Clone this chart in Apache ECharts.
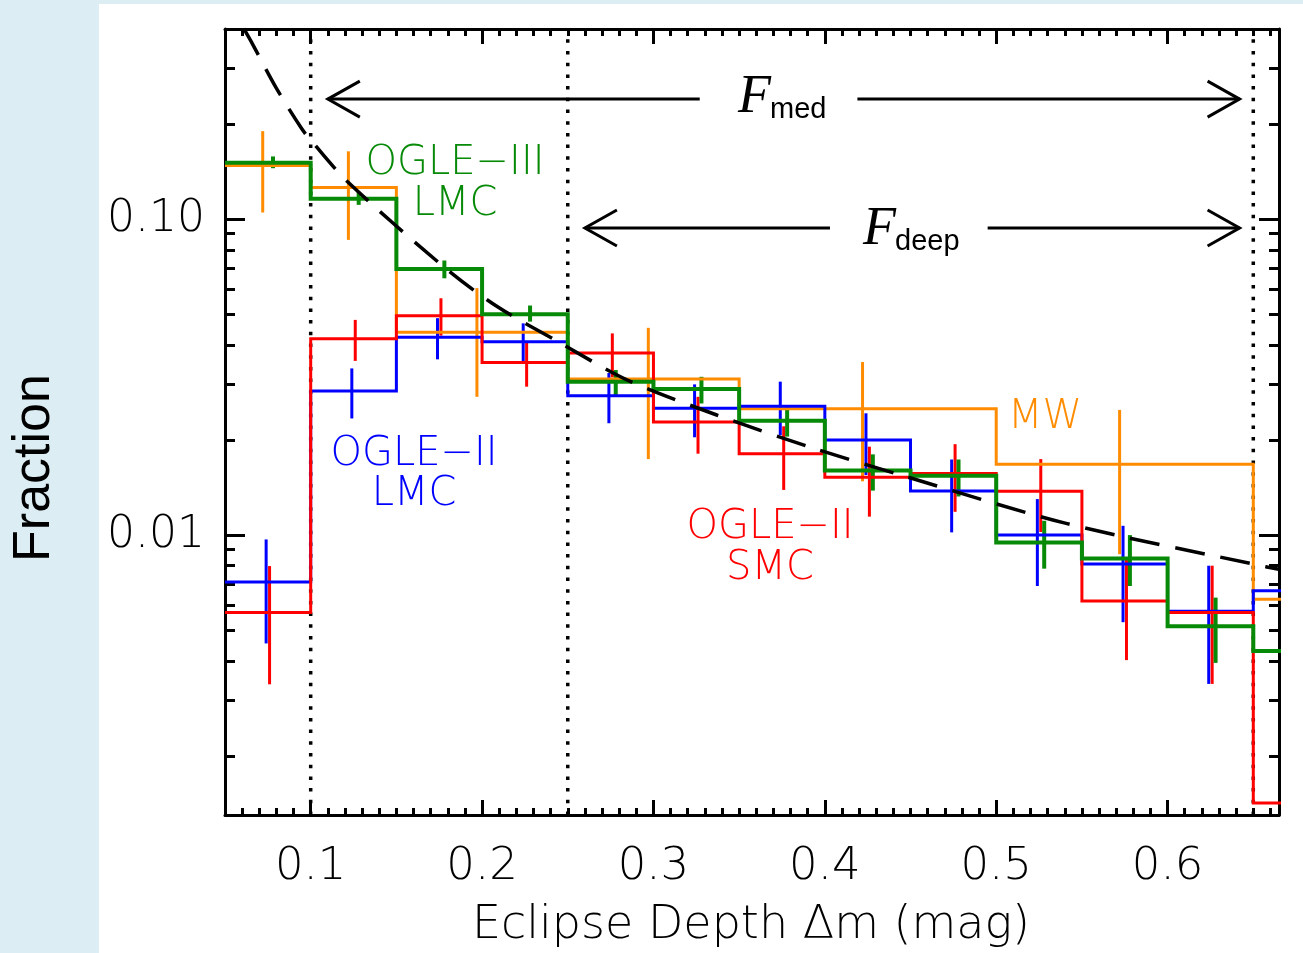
<!DOCTYPE html>
<html>
<head>
<meta charset="utf-8">
<title>Eclipse depth distribution</title>
<script src="https://cdn.jsdelivr.net/npm/echarts@6/dist/echarts.min.js"></script>
<style>
  html, body { margin: 0; padding: 0; background: #dcedf3; }
  #paper { position: absolute; left: 99px; top: 4px; right: 0; bottom: 0; background: #fff; }
  #chart { position: absolute; left: 0; top: 0; width: 1303px; height: 953px; }
</style>
</head>
<body>
<div id="paper"></div>
<div id="chart"></div>
<script>
// axis ranges
const xMin = 0.05, xMax = 0.665
const yMin = 0.0013, yMax = 0.40
const xMajor = [0.1, 0.2, 0.3, 0.4, 0.5, 0.6]
const yMajor = [0.01, 0.1]
const yMinor = [0.002, 0.003, 0.004, 0.005, 0.006, 0.007, 0.008, 0.009,
  0.02, 0.03, 0.04, 0.05, 0.06, 0.07, 0.08, 0.09, 0.2, 0.3, 0.4]
const limitX = [0.10, 0.25, 0.65]

// OGLE bins (0.05 wide), last one runs off the plot
const edges = [0.05, 0.10, 0.15, 0.20, 0.25, 0.30, 0.35, 0.40, 0.45, 0.50, 0.55, 0.60, 0.65, 0.70]

// MW (orange) has its own wider bins
const mwEdges = [0.05, 0.10, 0.15, 0.25, 0.35, 0.50, 0.65, 0.70]
const mwVal = [0.148, 0.126, 0.0439, 0.0312, 0.0251, 0.01675, 0.00627]
const mwErrX = [0.072, 0.122, 0.197, 0.297, 0.422, 0.572]
const mwLo = [0.105, 0.086, 0.0274, 0.0174, 0.0148, 0.0087]
const mwHi = [0.190, 0.164, 0.0605, 0.0453, 0.0353, 0.0249]

// OGLE-II LMC (blue)
const lmc2Val = [0.00711, 0.0286, 0.0423, 0.0409, 0.0276, 0.0252, 0.0256, 0.0200, 0.01378, 0.0100, 0.00810, 0.00574, 0.00667]
const lmc2ErrX = [0.074, 0.124, 0.174, 0.224, 0.274, 0.324, 0.374, 0.424, 0.474, 0.524, 0.574, 0.624]
const lmc2Lo = [0.00454, 0.0234, 0.0360, 0.0348, 0.0226, 0.0204, 0.0207, 0.0155, 0.0102, 0.0069, 0.0053, 0.00338]
const lmc2Hi = [0.00969, 0.0337, 0.0486, 0.0468, 0.0326, 0.0300, 0.0306, 0.0243, 0.01735, 0.0130, 0.0107, 0.0080]

// OGLE-II SMC (red)
const smcVal = [0.00569, 0.0418, 0.0495, 0.0352, 0.0377, 0.0228, 0.0181, 0.01524, 0.01567, 0.01377, 0.00618, 0.00569, 0.00142]
const smcErrX = [0.076, 0.126, 0.176, 0.226, 0.276, 0.326, 0.376, 0.426, 0.476, 0.526, 0.576, 0.626]
const smcLo = [0.00337, 0.0356, 0.0428, 0.0295, 0.0316, 0.0181, 0.0139, 0.01144, 0.01185, 0.01023, 0.00402, 0.00338]
const smcHi = [0.00798, 0.0480, 0.0562, 0.0410, 0.0435, 0.0274, 0.0221, 0.01905, 0.0194, 0.0174, 0.00834, 0.0080]

// OGLE-III LMC (green)
const lmc3Val = [0.151, 0.116, 0.0696, 0.0500, 0.0306, 0.0290, 0.0230, 0.0160, 0.0154, 0.00948, 0.00843, 0.00515, 0.0043]
const lmc3ErrX = [0.078, 0.128, 0.178, 0.228, 0.278, 0.328, 0.378, 0.428, 0.478, 0.528, 0.578, 0.628]
const lmc3Lo = [0.145, 0.111, 0.065, 0.0474, 0.0274, 0.0261, 0.0205, 0.01383, 0.01325, 0.00783, 0.0069, 0.00394]
const lmc3Hi = [0.158, 0.122, 0.074, 0.0533, 0.0333, 0.0317, 0.0254, 0.01801, 0.01735, 0.0111, 0.0100, 0.00634]

// dashed model curve
const modelX = [0.061, 0.066, 0.0796, 0.0946, 0.100, 0.1214, 0.1775, 0.2088, 0.2456, 0.2845, 0.3369, 0.3913, 0.4456, 0.5408, 0.6573, 0.665]
const modelY = [0.401, 0.359, 0.262, 0.194, 0.178, 0.1316, 0.0708, 0.0529, 0.0406, 0.0310, 0.0240, 0.0190, 0.01542, 0.01089, 0.00794, 0.0078]

// F_med / F_deep arrows: [left tip, right tip, y, gap start, gap end]
const arrows = [
  [0.110, 0.642, 0.240, 0.327, 0.419],
  [0.260, 0.642, 0.0938, 0.403, 0.495]
]

const ORANGE = '#ff8c00'
const BLUE = '#0000ff'
const RED = '#ff0000'
const GREEN = '#078a07'
const THIN = 'DejaVu Sans'
const THIN_W = 200

function steps(e, v) {
  const pts = []
  v.forEach((y, i) => { pts.push([e[i], y], [e[i + 1], y]) })
  return pts
}

function histSeries(name, e, v, color, width) {
  return {
    name, type: 'line', data: steps(e, v),
    symbol: 'none', silent: true, animation: false,
    lineStyle: { color, width, join: 'miter' }
  }
}

function errSeries(name, xs, lo, hi, color, width) {
  return {
    name: name + ' err', type: 'custom', silent: true, animation: false,
    data: xs.map((x, i) => [x, lo[i], hi[i]]),
    encode: { x: 0, y: [1, 2] },
    renderItem: (params, api) => {
      const a = api.coord([api.value(0), api.value(1)])
      const b = api.coord([api.value(0), api.value(2)])
      return {
        type: 'line',
        shape: { x1: a[0], y1: a[1], x2: b[0], y2: b[1] },
        style: { stroke: color, lineWidth: width }
      }
    }
  }
}

function xAxisCfg(pos, ticks, len, withLabels, withLine) {
  return {
    type: 'value', position: pos, min: xMin, max: xMax,
    interval: ticks ? undefined : 0.01,
    axisLine: { show: withLine, onZero: false, lineStyle: { color: '#000', width: 3 } },
    axisTick: Object.assign({ inside: true, length: len, lineStyle: { color: '#000', width: 3 } },
      ticks ? { customValues: ticks } : {}),
    axisLabel: withLabels
      ? { customValues: ticks, margin: 30, fontSize: 45, fontFamily: THIN, fontWeight: THIN_W, color: '#000',
          formatter: (v) => v.toFixed(1) }
      : { show: false },
    splitLine: { show: false }
  }
}

function yAxisCfg(pos, ticks, len, withLabels, withLine) {
  return {
    type: 'log', logBase: 10, position: pos, min: yMin, max: yMax,
    axisLine: { show: withLine, onZero: false, lineStyle: { color: '#000', width: 3 } },
    axisTick: { inside: true, length: len, customValues: ticks, lineStyle: { color: '#000', width: 3 } },
    axisLabel: withLabels
      ? { customValues: ticks, margin: 20, fontSize: 44, fontFamily: THIN, fontWeight: THIN_W, color: '#000',
          formatter: (v) => v.toFixed(2) }
      : { show: false },
    splitLine: { show: false },
    minorTick: { show: false }
  }
}

const chart = echarts.init(document.getElementById('chart'), null, { renderer: 'canvas' })

const textStyle = (size, color) => ({ fontSize: size, fontFamily: THIN, fontWeight: THIN_W, fill: color })

chart.setOption({
  animation: false,
  grid: { left: 225, top: 29, right: 24, bottom: 138, outerBoundsMode: 'none', containLabel: false },
  xAxis: [
    xAxisCfg('bottom', xMajor, 15, true, true),
    xAxisCfg('bottom', null, 7, false, false),
    xAxisCfg('top', xMajor, 15, false, true),
    xAxisCfg('top', null, 7, false, false)
  ],
  yAxis: [
    yAxisCfg('left', yMajor, 20, true, true),
    yAxisCfg('left', yMinor, 10, false, false),
    yAxisCfg('right', yMajor, 20, false, true),
    yAxisCfg('right', yMinor, 10, false, false)
  ],
  series: [
    histSeries('MW', mwEdges, mwVal, ORANGE, 3),
    errSeries('MW', mwErrX, mwLo, mwHi, ORANGE, 3),
    histSeries('OGLE-II LMC', edges, lmc2Val, BLUE, 3),
    errSeries('OGLE-II LMC', lmc2ErrX, lmc2Lo, lmc2Hi, BLUE, 3),
    histSeries('OGLE-II SMC', edges, smcVal, RED, 3),
    errSeries('OGLE-II SMC', smcErrX, smcLo, smcHi, RED, 3),
    histSeries('OGLE-III LMC', edges, lmc3Val, GREEN, 4),
    errSeries('OGLE-III LMC', lmc3ErrX, lmc3Lo, lmc3Hi, GREEN, 4),
    {
      name: 'model', type: 'line', silent: true,
      data: modelX.map((x, i) => [x, modelY[i]]),
      smooth: 0.3, symbol: 'none',
      lineStyle: { color: '#000', width: 3.5, type: [30, 16] }
    },
    {
      name: 'limits', type: 'custom', silent: true,
      data: limitX.map((x) => [x, yMin, yMax]),
      encode: { x: 0, y: [1, 2] },
      renderItem: (params, api) => {
        const a = api.coord([api.value(0), api.value(1)])
        const b = api.coord([api.value(0), api.value(2)])
        return {
          type: 'line',
          shape: { x1: a[0], y1: a[1], x2: b[0], y2: b[1] },
          style: { stroke: '#000', lineWidth: 3.5, lineDash: [3.5, 8.2] }
        }
      }
    },
    {
      name: 'arrows', type: 'custom', silent: true,
      data: arrows,
      encode: { x: [0, 1, 3, 4], y: 2 },
      renderItem: (params, api) => {
        const y = api.value(2)
        const L = api.coord([api.value(0), y])
        const R = api.coord([api.value(1), y])
        const gL = api.coord([api.value(3), y])
        const gR = api.coord([api.value(4), y])
        const st = { stroke: '#000', lineWidth: 3, fill: null }
        return {
          type: 'group',
          children: [
            { type: 'line', shape: { x1: L[0], y1: L[1], x2: gL[0], y2: gL[1] }, style: st },
            { type: 'line', shape: { x1: gR[0], y1: gR[1], x2: R[0], y2: R[1] }, style: st },
            { type: 'polyline', shape: { points: [[L[0] + 32, L[1] - 18], L, [L[0] + 32, L[1] + 18]] }, style: st },
            { type: 'polyline', shape: { points: [[R[0] - 32, R[1] - 18], R, [R[0] - 32, R[1] + 18]] }, style: st }
          ]
        }
      }
    }
  ],
  graphic: [
    { type: 'text', x: 35, y: 468, rotation: Math.PI / 2,
      style: { text: 'Fraction', fontSize: 52, fontFamily: 'Liberation Sans', fill: '#000', textAlign: 'center', textVerticalAlign: 'middle' } },
    { type: 'text', x: 751, y: 926,
      style: Object.assign({ text: 'Eclipse Depth Δm (mag)', textAlign: 'center', textVerticalAlign: 'middle' }, textStyle(46, '#000')) },
    { type: 'text', x: 455, y: 143,
      style: Object.assign({ text: 'OGLE−III\nLMC', textAlign: 'center', textVerticalAlign: 'top', lineHeight: 41 }, textStyle(40, GREEN)) },
    { type: 'text', x: 414, y: 435,
      style: Object.assign({ text: 'OGLE−II\nLMC', textAlign: 'center', textVerticalAlign: 'top', lineHeight: 40 }, textStyle(40, BLUE)) },
    { type: 'text', x: 770, y: 507,
      style: Object.assign({ text: 'OGLE−II\nSMC', textAlign: 'center', textVerticalAlign: 'top', lineHeight: 41 }, textStyle(40, RED)) },
    { type: 'text', x: 1045, y: 398,
      style: Object.assign({ text: 'MW', textAlign: 'center', textVerticalAlign: 'top' }, textStyle(40, ORANGE)) },
    { type: 'text', left: 738, top: 71,
      style: { text: 'F', fontSize: 54, fontFamily: 'Liberation Serif', fontStyle: 'italic', fill: '#000' } },
    { type: 'text', left: 770, top: 95,
      style: { text: 'med', fontSize: 29, fontFamily: 'Liberation Sans', fill: '#000' } },
    { type: 'text', left: 863, top: 203,
      style: { text: 'F', fontSize: 54, fontFamily: 'Liberation Serif', fontStyle: 'italic', fill: '#000' } },
    { type: 'text', left: 895, top: 227,
      style: { text: 'deep', fontSize: 29, fontFamily: 'Liberation Sans', fill: '#000' } }
  ]
})
</script>
</body>
</html>
